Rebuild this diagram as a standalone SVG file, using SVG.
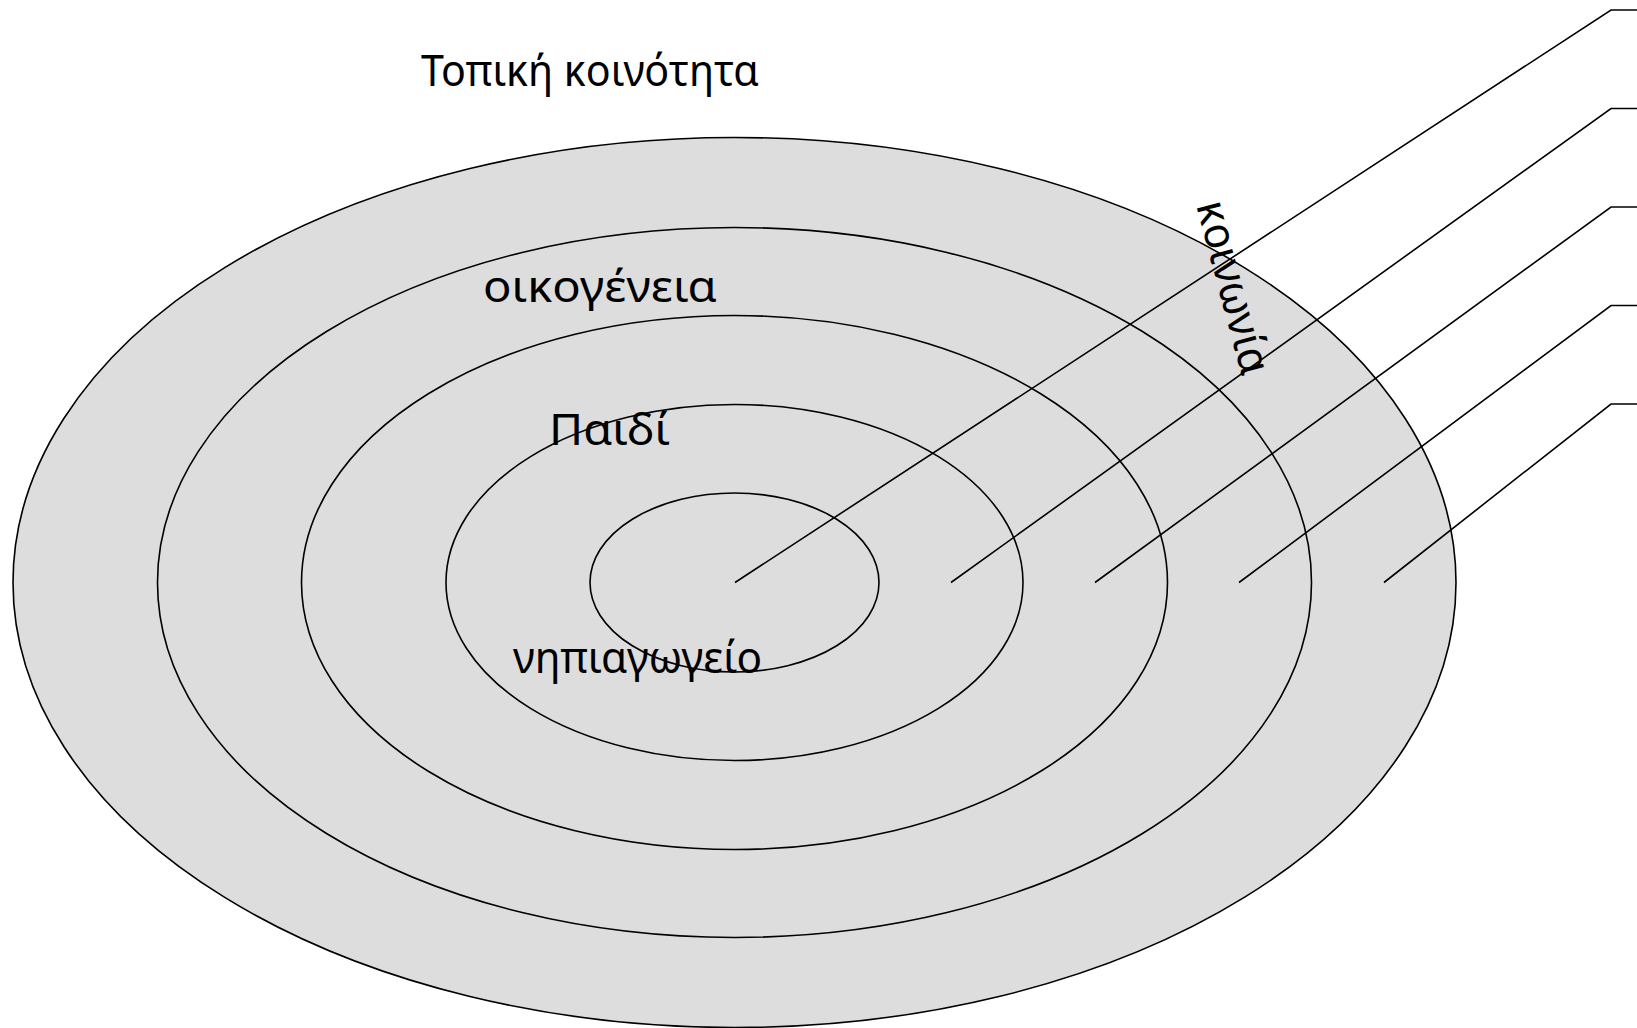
<svg xmlns="http://www.w3.org/2000/svg" width="1637" height="1028" viewBox="0 0 1637 1028">
<style>
.ring{fill:#dddddd;stroke:#000;stroke-width:1.6}
.conn{fill:none;stroke:#000;stroke-width:1.6}
.lbl{font-family:"Noto Sans","Open Sans",sans-serif;font-size:44px;fill:#000}
</style>
<rect width="1637" height="1028" fill="#fff"/>
<g id="ring-community"><ellipse class="ring" cx="734.5" cy="582.5" rx="721.5" ry="445"/></g>
<g id="ring-society"><ellipse class="ring" cx="734.5" cy="582.5" rx="577" ry="355"/></g>
<g id="ring-family"><ellipse class="ring" cx="734.5" cy="582.5" rx="433" ry="267"/></g>
<g id="ring-kindergarten"><ellipse class="ring" cx="734.5" cy="582.5" rx="288.5" ry="178"/></g>
<g id="ring-child"><ellipse class="ring" cx="734.5" cy="582.5" rx="144.5" ry="89.5"/></g>
<g id="connectors">
<polyline class="conn" points="735,582.5 1611,10 1637,10"/>
<polyline class="conn" points="951,582.5 1611,108.5 1637,108.5"/>
<polyline class="conn" points="1095,582.5 1611,207 1637,207"/>
<polyline class="conn" points="1239,582.5 1611,305.5 1637,305.5"/>
<polyline class="conn" points="1384,582.5 1611,404 1637,404"/>
</g>
<g id="label-community"><text class="lbl" x="421" y="86" textLength="338" lengthAdjust="spacingAndGlyphs">Τοπική κοινότητα</text></g>
<g id="label-family"><text class="lbl" x="483" y="302" textLength="234" lengthAdjust="spacingAndGlyphs">οικογένεια</text></g>
<g id="label-child"><text class="lbl" x="549" y="445" textLength="121" lengthAdjust="spacingAndGlyphs">Παιδί</text></g>
<g id="label-kindergarten"><text class="lbl" x="513" y="673" textLength="249" lengthAdjust="spacingAndGlyphs">νηπιαγωγείο</text></g>
<g id="label-society"><text class="lbl" transform="translate(1196,205) rotate(75)" x="0" y="0" textLength="178" lengthAdjust="spacingAndGlyphs">κοινωνία</text></g>
</svg>
